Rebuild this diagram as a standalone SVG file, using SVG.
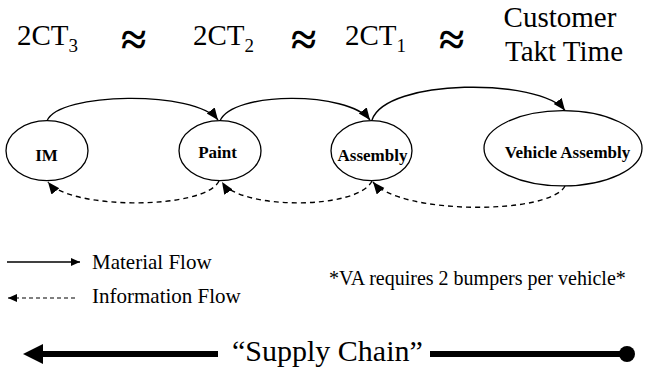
<svg xmlns="http://www.w3.org/2000/svg" width="645" height="373" viewBox="0 0 645 373">
  <defs>
    <style>
      .t { font-family: "Liberation Serif", "Times New Roman", serif; fill: #000; }
      .big { font-size: 29px; }
      .sub { font-size: 19px; }
      .approx { font-size: 46px; font-weight: bold; }
      .node ellipse { fill: #fff; stroke: #000; stroke-width: 1.3; }
      .lbl { font-family: "Liberation Serif", "Times New Roman", serif; font-size: 17px; font-weight: bold; text-anchor: middle; fill: #000; }
      .mat { fill: none; stroke: #000; stroke-width: 1.4; }
      .inf { fill: none; stroke: #000; stroke-width: 1.4; stroke-dasharray: 5 4; }
      .leg { font-size: 21px; }
    </style>
    <marker id="ah" markerUnits="userSpaceOnUse" markerWidth="14" markerHeight="12" refX="12" refY="5" orient="auto">
      <path d="M0,0 L12,5 L0,10 Z" fill="#000"/>
    </marker>
    <marker id="ahs" markerUnits="userSpaceOnUse" markerWidth="10" markerHeight="10" refX="9" refY="4" orient="auto">
      <path d="M0,0 L9,4 L0,8 Z" fill="#000"/>
    </marker>
  </defs>

  <!-- top equation -->
  <g id="equation">
    <text class="t big" x="17" y="45">2CT<tspan class="sub" dy="7">3</tspan></text>
    <text class="t approx" x="121" y="55">≈</text>
    <text class="t big" x="193" y="45">2CT<tspan class="sub" dy="7">2</tspan></text>
    <text class="t approx" x="291" y="55">≈</text>
    <text class="t big" x="345" y="45">2CT<tspan class="sub" dy="7">1</tspan></text>
    <text class="t approx" x="439" y="55">≈</text>
    <text class="t big" x="560" y="27" text-anchor="middle">Customer</text>
    <text class="t big" x="564" y="61" text-anchor="middle">Takt Time</text>
  </g>

  <!-- connectors -->
  <g id="connectors">
    <path class="mat" d="M47,121 C58,92 195,90 218,120" marker-end="url(#ah)"/>
    <path class="mat" d="M220,121 C232,91 348,91 370,120" marker-end="url(#ah)"/>
    <path class="mat" d="M372,120 C386,78 540,78 565,110.5" marker-end="url(#ah)"/>
    <path class="inf" d="M219,181 C205,210 70,210 48,182" marker-end="url(#ah)"/>
    <path class="inf" d="M372,181 C358,210 240,210 222,182" marker-end="url(#ah)"/>
    <path class="inf" d="M565,186 C550,215 400,215 373,182" marker-end="url(#ah)"/>
  </g>

  <g id="node-im" class="node">
    <ellipse cx="47" cy="150.7" rx="41" ry="30"/>
    <text class="lbl" x="46.5" y="160.7">IM</text>
  </g>
  <g id="node-paint" class="node">
    <ellipse cx="220" cy="150.7" rx="41" ry="30"/>
    <text class="lbl" x="217.5" y="158.3">Paint</text>
  </g>
  <g id="node-assembly" class="node">
    <ellipse cx="371.5" cy="150.7" rx="40.5" ry="30"/>
    <text class="lbl" x="372.5" y="160.7">Assembly</text>
  </g>
  <g id="node-vehicle-assembly" class="node">
    <ellipse cx="563" cy="148.3" rx="79" ry="37.6"/>
    <text class="lbl" x="567.5" y="158.3">Vehicle Assembly</text>
  </g>

  <!-- legend -->
  <g id="legend">
    <line class="mat" x1="7" y1="262" x2="80" y2="262" marker-end="url(#ahs)"/>
    <text class="t leg" x="92" y="269">Material Flow</text>
    <line x1="75" y1="298" x2="8" y2="298" stroke="#000" stroke-width="1.2" stroke-dasharray="4 3" marker-end="url(#ahs)"/>
    <text class="t leg" x="92" y="303">Information Flow</text>
    <text class="t" x="329" y="285" font-size="20">*VA requires 2 bumpers per vehicle*</text>
  </g>

  <!-- supply chain -->
  <g id="supply-chain">
    <line x1="40" y1="354" x2="218" y2="354" stroke="#000" stroke-width="6"/>
    <path d="M23,354 L43,344 L43,364 Z" fill="#000"/>
    <text class="t" x="232" y="361" font-size="30">“Supply Chain”</text>
    <line x1="430" y1="354" x2="627" y2="354" stroke="#000" stroke-width="6"/>
    <circle cx="627" cy="354" r="8" fill="#000"/>
  </g>
</svg>
